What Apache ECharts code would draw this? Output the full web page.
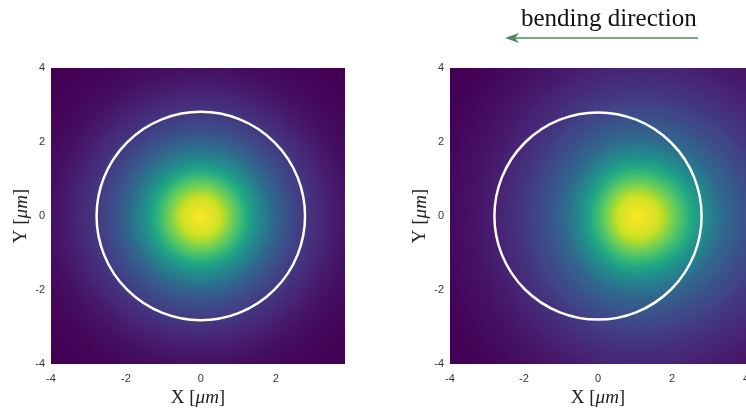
<!DOCTYPE html>
<html>
<head>
<meta charset="utf-8">
<script src="https://cdn.jsdelivr.net/npm/echarts@6/dist/echarts.min.js"></script>
<style>
  html, body { margin: 0; padding: 0; background: #fff; }
  #chart { width: 746px; height: 408px; }
</style>
</head>
<body>
<div id="chart"></div>
<script>
// radial intensity profile (0 = dark purple, 1 = yellow)
const radii        = [0, 0.5, 1, 1.5, 2, 2.5, 3, 3.5, 4, 4.5, 5, 5.5, 6.5];
const straightMode = [1.0, 0.93, 0.72, 0.49, 0.32, 0.21, 0.14, 0.085, 0.045, 0.02, 0.01, 0.0, 0.0];
const bentMode     = [1.0, 0.93, 0.71, 0.49, 0.33, 0.24, 0.17, 0.12, 0.08, 0.05, 0.03, 0.01, 0.0];
const straightCentre = [0, 0];
const bentCentre     = [1.05, 0];
// how much the mode is squeezed/stretched: [towards -x, towards +x, along y]
const straightScale = [1, 1, 1];
const bentScale     = [1.0, 0.83, 0.92];
const coreCircle = [0, 0, 2.8];   // x, y, radius
const tickValues = [-4, -2, 0, 2, 4];
const leftExtent  = [-4, 3.85];
const rightExtent = [-4, 4];
const yExtent = [-4, 4];
const step = 0.05;

const viridis = ['#440154', '#482475', '#414487', '#355f8d', '#2a788e', '#21918c',
                 '#22a884', '#44bf70', '#7ad151', '#bddf26', '#fde725'];

// look up the profile at radius r
function profileAt(profile, r) {
  for (let i = 1; i < radii.length; i++) {
    if (r <= radii[i]) {
      const t = (r - radii[i - 1]) / (radii[i] - radii[i - 1]);
      return profile[i - 1] + t * (profile[i] - profile[i - 1]);
    }
  }
  return profile[profile.length - 1];
}

function buildField(profile, centre, scale, xr) {
  const cells = [];
  for (let x = xr[0] + step / 2; x - step / 2 < xr[1]; x += step) {
    for (let y = yExtent[0] + step / 2; y < yExtent[1]; y += step) {
      const dx = x - centre[0];
      const sx = dx < 0 ? scale[0] : scale[1];
      const r = Math.hypot(dx * sx, (y - centre[1]) * scale[2]);
      cells.push([x, y, profileAt(profile, r)]);
    }
  }
  return cells;
}

const chart = echarts.init(document.getElementById('chart'));

const tickFont = { fontFamily: 'Liberation Sans', fontSize: 11, color: '#333' };
const nameRich = {
  u: { fontFamily: 'Liberation Serif', fontSize: 19, color: '#222' },
  i: { fontFamily: 'Liberation Serif', fontSize: 19, fontStyle: 'italic', color: '#222' }
};

function xAxisFor(idx, ext) {
  return {
    gridIndex: idx, type: 'value', min: ext[0], max: ext[1], interval: 2,
    axisLine: { show: false }, axisTick: { show: false }, splitLine: { show: false },
    axisLabel: Object.assign({
      margin: 9,
      formatter: v => tickValues.includes(v) ? String(v) : ''
    }, tickFont),
    name: '{u|X [}{i|μm}{u|]}', nameLocation: 'middle', nameGap: 24,
    nameTextStyle: { rich: nameRich }
  };
}
function yAxisFor(idx) {
  return {
    gridIndex: idx, type: 'value', min: yExtent[0], max: yExtent[1], interval: 2,
    axisLine: { show: false }, axisTick: { show: false }, splitLine: { show: false },
    axisLabel: Object.assign({ margin: 6 }, tickFont),
    name: '{u|Y [}{i|μm}{u|]}', nameLocation: 'middle', nameGap: 20, nameRotate: 90,
    nameTextStyle: { rich: nameRich }
  };
}

function renderCell(params, api) {
  const p = api.coord([api.value(0), api.value(1)]);
  const s = api.size([step, step]);
  return {
    type: 'rect',
    shape: { x: p[0] - s[0] / 2, y: p[1] - s[1] / 2, width: s[0] + 1, height: s[1] + 1 },
    style: { fill: api.visual('color') },
    silent: true
  };
}

function renderCircle(params, api) {
  const c = api.coord([api.value(0), api.value(1)]);
  const s = api.size([api.value(2), api.value(2)]);
  return {
    type: 'circle',
    shape: { cx: c[0], cy: c[1], r: (s[0] + s[1]) / 2 },
    style: { fill: 'none', stroke: '#fff', lineWidth: 2.5 }
  };
}

const fieldSeries = (idx, data) => ({
  type: 'custom', xAxisIndex: idx, yAxisIndex: idx, clip: true,
  progressive: 0, renderItem: renderCell, data: data
});

chart.setOption({
  animation: false,
  grid: [
    { left: 51, top: 68, width: 294, height: 296, outerBoundsMode: 'none', containLabel: false },
    { left: 450, top: 68, width: 296, height: 296, outerBoundsMode: 'none', containLabel: false }
  ],
  xAxis: [xAxisFor(0, leftExtent), xAxisFor(1, rightExtent)],
  yAxis: [yAxisFor(0), yAxisFor(1)],
  visualMap: {
    show: false, type: 'continuous', min: 0, max: 1, dimension: 2,
    seriesIndex: [0, 1], inRange: { color: viridis }
  },
  series: [
    fieldSeries(0, buildField(straightMode, straightCentre, straightScale, leftExtent)),
    fieldSeries(1, buildField(bentMode, bentCentre, bentScale, rightExtent)),
    { type: 'custom', xAxisIndex: 0, yAxisIndex: 0, renderItem: renderCircle, data: [coreCircle], z: 5 },
    { type: 'custom', xAxisIndex: 1, yAxisIndex: 1, renderItem: renderCircle, data: [coreCircle], z: 5 }
  ],
  graphic: [
    { type: 'text', left: 521, top: 7,
      style: { text: 'bending direction', font: '25px "Liberation Serif"', fill: '#111' } },
    { type: 'line', shape: { x1: 698, y1: 38, x2: 512, y2: 38 },
      style: { stroke: '#4f8a58', lineWidth: 1.5 } },
    { type: 'polygon', shape: { points: [[505, 38], [519, 33], [515, 38], [519, 43]] },
      style: { fill: '#4f8a58' } }
  ]
});
</script>
</body>
</html>
